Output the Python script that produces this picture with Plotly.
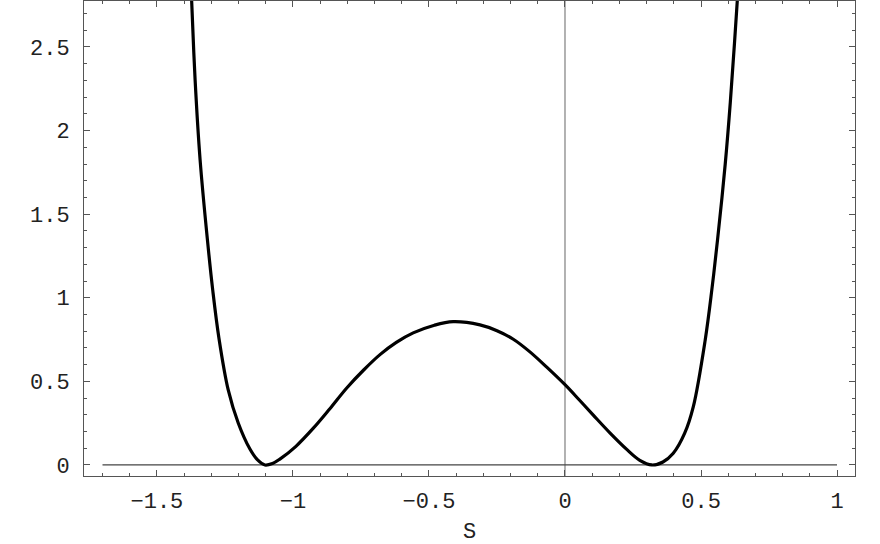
import plotly.graph_objects as go

# values
s_vals = [-1.3855, -1.3724, -1.3596, -1.3412, -1.3143, -1.2949, -1.2721, -1.2379,
          -1.2011, -1.1581, -1.13, -1.103, -1.075, -1.048, -0.99, -0.925, -0.865,
          -0.803, -0.74, -0.680, -0.62, -0.558, -0.48, -0.411, -0.3125, -0.25,
          -0.190, -0.13, -0.067, 0.0, 0.052, 0.104, 0.165, 0.227, 0.275, 0.319,
          0.36, 0.398, 0.44, 0.4717, 0.5154, 0.5397, 0.5607, 0.589, 0.6077,
          0.6335, 0.653]
v_vals = [3.3, 2.781, 2.303, 1.824, 1.346, 1.047, 0.76, 0.449,
          0.251, 0.095, 0.03, 0.0, 0.009, 0.035, 0.11, 0.22, 0.335,
          0.459, 0.568, 0.660, 0.733, 0.790, 0.836, 0.857, 0.838, 0.803,
          0.752, 0.678, 0.585, 0.48, 0.39, 0.298, 0.192, 0.093, 0.028, 0.0,
          0.018, 0.07, 0.19, 0.349, 0.748, 1.047, 1.346, 1.80, 2.17,
          2.781, 3.3]

# axes drawn inside the frame
h_axis_x = [-1.7, 1.0]
h_axis_y = [0, 0]
v_axis_x = [0, 0]
v_axis_y = [-1, 4]

x_ticks = [-1.5, -1, -0.5, 0, 0.5, 1]
x_text = ["\u22121.5", "\u22121", "\u22120.5", "0", "0.5", "1"]
y_ticks = [0, 0.5, 1, 1.5, 2, 2.5]
y_text = ["0", "0.5", "1", "1.5", "2", "2.5"]

font_name = "Liberation Mono, Courier New, monospace"

fig = go.Figure()

fig.add_trace(go.Scatter(x=v_axis_x, y=v_axis_y, mode="lines",
                         line=dict(color="#999999", width=1.5), hoverinfo="skip"))
fig.add_trace(go.Scatter(x=h_axis_x, y=h_axis_y, mode="lines",
                         line=dict(color="#444444", width=1.2), hoverinfo="skip"))
fig.add_trace(go.Scatter(x=s_vals, y=v_vals, mode="lines",
                         line=dict(color="black", width=3.2, shape="spline", smoothing=1.0)))

axis_common = dict(
    showline=True, linecolor="#555555", linewidth=1, mirror="ticks",
    ticks="inside", ticklen=6, tickcolor="#555555", tickwidth=1,
    showgrid=False, zeroline=False, automargin=False,
    tickfont=dict(family=font_name, size=22, color="#222222"),
)

minor_common = dict(dtick=0.1, tick0=0, ticks="inside", ticklen=3,
                    tickcolor="#555555", showgrid=False)

fig.update_layout(
    width=880, height=544,
    margin=dict(l=84, r=25, t=1, b=68),
    paper_bgcolor="white", plot_bgcolor="white",
    showlegend=False,
    xaxis=dict(range=[-1.768, 1.066], tickvals=x_ticks, ticktext=x_text,
               minor=minor_common, ticklabelstandoff=5, **axis_common),
    yaxis=dict(range=[-0.066, 2.775], tickvals=y_ticks, ticktext=y_text,
               minor=minor_common, ticklabelstandoff=9, **axis_common),
    annotations=[dict(text="S", xref="paper", yref="paper", x=0.5, y=-0.118,
                      xanchor="center", yanchor="middle", showarrow=False,
                      font=dict(family=font_name, size=22, color="#222222"))],
)

fig.write_html("out.html", config={"displayModeBar": False},
               post_script="document.body.style.margin='0px';")
